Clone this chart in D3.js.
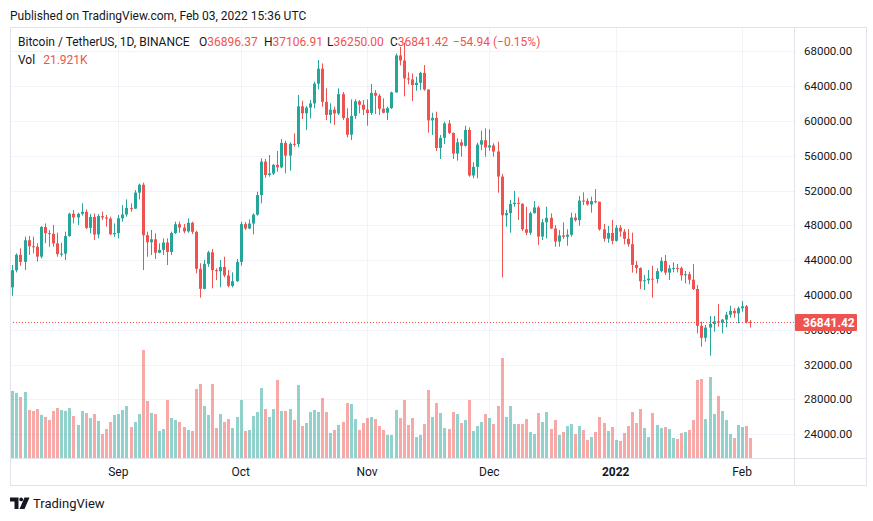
<!DOCTYPE html>
<html>
<head>
<meta charset="utf-8">
<script src="https://cdn.jsdelivr.net/npm/d3@7"></script>
<style>
  html, body { margin: 0; padding: 0; background: #ffffff; }
  svg { display: block; }
  text { font-family: Roboto, "Liberation Sans", sans-serif; }
</style>
</head>
<body>
<svg id="chart" width="873" height="521"></svg>
<script>
// ---------------- DATA (BTC/USDT daily, Binance) ----------------
const firstDay = "2021-08-06";
const lastDay = "2022-02-03";

const opens = [
  40862,42836,44614,43792,46284,45593,45549,44399,47800,47096,47018,45927,44686,44741,46760,49327,48905,49321,49546,47706,48960,46942,49058,48897,48767,46970,
  47100,48810,49246,49999,49915,51756,52663,46863,46048,46395,44850,45173,46025,44940,47111,48121,47737,47299,48293,47241,42996,40693,43574,44895,42839,42716,43208,42235,41034,41564,
  43790,48141,47634,48200,49224,51471,55315,53785,53951,54949,54659,57471,56005,57367,57347,61672,60875,61528,62010,64280,66001,62193,60688,61286,60852,63078,60328,58413,60575,62253,61859,
  61299,60911,63219,62896,61395,60937,61470,63273,67525,66947,64882,64774,64122,64380,65519,63606,60058,60344,56891,58052,59707,58622,56247,57541,57138,58960,53726,54721,57274,57776,
  56950,57184,56480,53601,49152,49396,50441,50588,50471,47545,47140,49389,50053,46702,48343,48864,47632,46131,46834,46681,46914,48889,48588,50838,50820,50399,50775,50701,47543,46464,47120,
  46216,47722,47286,46446,45832,43451,43082,41566,41679,41864,41822,42729,43902,42560,43060,43098,43078,42250,42375,41744,40681,36445,35071,36244,36660,36958,36810,37160,37716,38166,37881,
  38466,38690,36896.37
];
const highs = [
  43440,44780,45350,46690,46770,46690,45930,47920,48220,47460,48030,47150,46000,47270,49450,49760,49450,50520,49830,49300,49370,49300,49570,49180,48990,48220,
  49180,50330,50980,50520,52050,52780,52900,47270,47460,47080,45930,46500,46500,47270,48420,48420,48150,48800,48420,47380,43640,44010,45080,45280,43050,44010,44390,42860,42590,44130,
  48420,48380,48680,49370,51860,55700,55620,56080,55040,56540,57920,57730,57530,58570,62970,62320,61710,62400,64510,67000,66610,63740,62020,61630,63740,63320,61440,62480,62480,62400,62400,
  62480,64240,63550,63090,62590,61630,63360,67760,68530,69000,65580,65460,65080,65660,66420,63630,60940,61060,58380,59910,60100,58650,57990,57880,59450,59260,55240,57500,58880,59140,
  59030,57420,57610,53890,49760,50910,51940,51210,50520,50140,49570,50790,50220,48720,50140,49370,48030,47460,48340,47540,49450,49370,51370,51790,51100,51290,52170,50720,48150,47920,48610,
  48030,48030,47570,47570,47150,43900,43170,42290,42860,43360,43050,44320,44590,43440,43740,43550,43240,42750,42670,43550,41140,36920,36540,37570,37570,38950,37230,38070,38760,38460,38650,
  39300,38840,37106.91
];
const lows = [
  39910,42590,43360,42860,44590,44780,43820,44200,45930,45540,45540,44390,44390,44010,46690,48220,48030,49110,47570,47080,46310,46500,48610,47840,46880,46690,
  46500,48420,48990,49570,49870,50970,42860,44390,44590,44130,44780,44590,43440,44590,47000,47150,47080,47150,47000,42480,39680,40640,43240,40750,41710,40870,42020,40870,40870,41520,
  43360,47460,47570,46960,49110,50520,53470,53590,53780,54160,54550,53970,54280,57040,56960,60220,58950,60290,61440,63630,61630,60100,59720,59530,60680,60100,58110,57800,60220,60870,60680,
  59450,60680,60790,60680,60870,60100,61370,63240,66380,62820,64200,62280,63470,63550,63470,58650,58380,56540,55620,57340,58490,55620,55430,55890,57040,53590,53400,53400,56650,55890,
  56580,55890,51750,42000,47840,47150,50140,48610,47340,46880,46880,49370,45730,46310,46500,47570,45540,45540,46420,45660,46690,48420,47960,50330,50260,49450,50520,47380,46120,46000,45810,
  46120,46690,45810,45540,42560,42480,40680,40560,41250,39680,41330,42590,42290,41710,42590,42590,41640,41330,41210,40560,35580,34050,34620,33020,35770,36350,35580,36270,37380,37380,36730,
  38070,36730,36250.00
];
const closes = [
  42836,44614,43792,46284,45593,45549,44399,47800,47096,47018,45927,44686,44741,46760,49327,48905,49321,49546,47706,48960,46942,49058,48897,48767,46970,47100,
  48810,49246,49999,49915,51756,52663,46863,46048,46395,44850,45173,46025,44940,47111,48121,47737,47299,48293,47241,42996,40693,43574,44895,42839,42716,43208,42235,41034,41564,43790,
  48141,47634,48200,49224,51471,55315,53785,53951,54949,54659,57471,56005,57367,57347,61672,60875,61528,62010,64280,66001,62193,60688,61286,60852,63078,60328,58413,60575,62253,61859,61299,
  60911,63219,62896,61395,60937,61470,63273,67525,66947,64882,64774,64122,64380,65519,63606,60058,60344,56891,58052,59707,58622,56247,57541,57138,58960,53726,54721,57274,57776,56950,
  57184,56480,53601,49152,49396,50441,50588,50471,47545,47140,49389,50053,46702,48343,48864,47632,46131,46834,46681,46914,48889,48588,50838,50820,50399,50775,50701,47543,46464,47120,46216,
  47722,47286,46446,45832,43451,43082,41566,41679,41864,41822,42729,43902,42560,43060,43098,43078,42250,42375,41744,40681,36445,35071,36244,36660,36958,36810,37160,37716,38166,37881,38466,
  38690,36896,36841.42
];
// volume in thousands of BTC
const volumesK = [
  72.7,70.5,66.2,71.6,52.2,51.1,53.2,46.8,44.6,41.4,51.1,54.3,52.2,51.1,54.3,45.7,36.0,51.1,48.9,43.5,47.8,40.3,26.2,31.6,39.2,46.8,
  47.8,52.2,56.5,33.8,39.2,47.8,117.0,61.9,48.9,47.8,29.5,31.6,63.0,43.5,41.4,39.2,33.8,30.6,29.5,74.8,80.2,56.5,46.8,80.2,32.7,47.8,39.2,42.4,32.7,44.6,
  63.0,29.5,30.6,45.7,50.0,75.9,53.2,44.6,53.2,84.6,51.1,51.1,53.2,41.4,79.1,34.9,38.1,50.0,52.2,50.0,65.1,50.0,27.3,30.6,36.0,39.2,59.7,58.6,42.4,30.6,38.1,
  43.5,44.6,42.4,34.9,30.6,25.2,25.2,52.2,43.5,63.0,36.0,43.5,23.0,25.2,37.0,73.8,44.6,59.7,48.9,32.7,31.6,50.0,47.8,38.1,41.4,63.0,29.5,34.9,39.2,47.8,
  43.5,37.0,56.5,108.3,44.6,56.5,37.0,37.0,37.0,42.4,28.4,26.2,48.9,39.2,50.0,31.6,41.4,25.2,28.4,34.9,37.0,26.2,34.9,30.6,19.8,23.0,28.4,44.6,38.1,29.5,33.8,
  19.8,18.7,27.3,34.9,50.0,38.1,53.2,32.7,23.0,48.9,36.0,32.7,33.8,31.6,21.9,20.8,27.3,28.4,30.6,41.4,84.6,85.6,42.4,87.8,47.8,67.3,51.1,41.4,26.2,21.9,36.0,
  33.8,34.9,21.921
];

const priceTicks = [24000, 28000, 32000, 36000, 40000, 44000, 48000, 52000, 56000, 60000, 64000, 68000];
const timeTickDates = ["2021-09-01", "2021-10-01", "2021-11-01", "2021-12-01", "2022-01-01", "2022-02-01"];
const timeTickLabels = ["Sep", "Oct", "Nov", "Dec", "2022", "Feb"];
const timeTickBold = [false, false, false, false, true, false];

const lastPrice = 36841.42;
const legendTitle = "Bitcoin / TetherUS, 1D, BINANCE";
const legendValues = ["36896.37", "37106.91", "36250.00", "36841.42"];
const legendChange = "\u221254.94 (\u22120.15%)";
const volLegend = "21.921K";

// ---------------- LAYOUT ----------------
const UP = "#26a69a", DOWN = "#ef5350";
const UP_V = "rgba(38,166,154,0.5)", DOWN_V = "rgba(239,83,80,0.5)";
const TEXT = "#131722", GRID = "#f0f3fa", BORDER = "#e0e3eb";
const pane = { left: 10, top: 28, right: 794, bottom: 458.5 };

const parse = d3.utcParse("%Y-%m-%d");
const dates = d3.utcDay.range(parse(firstDay), d3.utcDay.offset(parse(lastDay), 1));
const data = dates.map((d, i) => ({ d, o: opens[i], h: highs[i], l: lows[i], c: closes[i], v: volumesK[i] }));

const x = d3.scaleUtc().domain([parse(firstDay), parse(lastDay)]).range([12.3, 750.3]);
const y = d3.scaleLinear().domain([24000, 68000]).range([434.1, 51.3]);
const yv = d3.scaleLinear().domain([0, 100]).range([458.3, 458.3 - 92.6]);

const svg = d3.select("#chart");
svg.append("rect").attr("width", 873).attr("height", 521).attr("fill", "#fff");

svg.append("text").attr("x", 10).attr("y", 19.5).attr("font-size", 12).attr("fill", TEXT)
  .text("Published on TradingView.com, Feb 03, 2022 15:36 UTC");

// clip
svg.append("clipPath").attr("id", "pc").append("rect")
  .attr("x", pane.left).attr("y", pane.top).attr("width", pane.right - pane.left).attr("height", pane.bottom - pane.top);

const g = svg.append("g").attr("clip-path", "url(#pc)");

// grid
g.selectAll("line.hg").data(priceTicks).join("line")
  .attr("x1", pane.left).attr("x2", pane.right)
  .attr("y1", d => Math.round(y(d)) + 0.5).attr("y2", d => Math.round(y(d)) + 0.5)
  .attr("stroke", GRID).attr("stroke-width", 1);
g.selectAll("line.vg").data(timeTickDates).join("line")
  .attr("x1", d => Math.round(x(parse(d))) + 0.5).attr("x2", d => Math.round(x(parse(d))) + 0.5)
  .attr("y1", pane.top).attr("y2", pane.bottom)
  .attr("stroke", GRID).attr("stroke-width", 1);

// volume
g.selectAll("rect.vol").data(data).join("rect")
  .attr("x", d => Math.round(x(d.d)) - 1).attr("width", 3)
  .attr("y", d => yv(d.v)).attr("height", d => yv(0) - yv(d.v))
  .attr("fill", d => d.c >= d.o ? UP_V : DOWN_V);

// candles
const cg = g.selectAll("g.candle").data(data).join("g");
cg.append("rect")
  .attr("x", d => Math.round(x(d.d)))
  .attr("width", 1)
  .attr("y", d => y(Math.max(d.h, d.o, d.c)))
  .attr("height", d => y(Math.min(d.l, d.o, d.c)) - y(Math.max(d.h, d.o, d.c)))
  .attr("fill", d => d.c >= d.o ? UP : DOWN);
cg.append("rect")
  .attr("x", d => Math.round(x(d.d)) - 1)
  .attr("width", 3)
  .attr("y", d => y(Math.max(d.o, d.c)))
  .attr("height", d => Math.max(1, y(Math.min(d.o, d.c)) - y(Math.max(d.o, d.c))))
  .attr("fill", d => d.c >= d.o ? UP : DOWN);

// last price dotted line
g.append("line")
  .attr("x1", pane.left).attr("x2", pane.right)
  .attr("y1", Math.round(y(lastPrice)) + 0.5).attr("y2", Math.round(y(lastPrice)) + 0.5)
  .attr("stroke", DOWN).attr("stroke-width", 1).attr("stroke-dasharray", "1,2");

// legend
const lg = svg.append("g").attr("font-size", 12);
lg.append("text").attr("x", 18).attr("y", 46).attr("fill", TEXT).text(legendTitle);
const letters = ["O", "H", "L", "C"];
const letterX = [199, 264, 327, 390];
letters.forEach((L, i) => {
  const t = lg.append("text").attr("x", letterX[i]).attr("y", 46);
  t.append("tspan").attr("fill", TEXT).text(L);
  t.append("tspan").attr("fill", DOWN).text(legendValues[i]);
});
lg.append("text").attr("x", 453).attr("y", 46).attr("fill", DOWN).text(legendChange);
const vl = lg.append("text").attr("x", 18).attr("y", 63.5);
vl.append("tspan").attr("fill", TEXT).text("Vol");
vl.append("tspan").attr("fill", DOWN).attr("dx", 8).text(volLegend);

// frame & separators
svg.append("rect").attr("x", 10.5).attr("y", 27.5).attr("width", 856).attr("height", 458)
  .attr("fill", "none").attr("stroke", BORDER).attr("stroke-width", 1);
svg.append("line").attr("x1", 794.5).attr("x2", 794.5).attr("y1", 28).attr("y2", 486)
  .attr("stroke", BORDER);
svg.append("line").attr("x1", 10).attr("x2", 867).attr("y1", 458.5).attr("y2", 458.5)
  .attr("stroke", BORDER);

// price axis labels
svg.append("g").selectAll("text").data(priceTicks).join("text")
  .attr("x", 804).attr("y", d => y(d) + 4)
  .attr("font-size", 11.5).attr("fill", TEXT)
  .text(d => d3.format(".2f")(d));

// last price label
const ly = y(lastPrice);
svg.append("rect").attr("x", 795).attr("y", ly - 8.5).attr("width", 62).attr("height", 17)
  .attr("rx", 1).attr("fill", DOWN);
svg.append("text").attr("x", 803).attr("y", ly + 4.5).attr("font-size", 12)
  .attr("font-weight", "bold").attr("fill", "#fff").text(d3.format(".2f")(lastPrice));

// time axis labels
svg.append("g").selectAll("text").data(timeTickDates).join("text")
  .attr("x", d => x(parse(d))).attr("y", 476)
  .attr("text-anchor", "middle").attr("font-size", 12)
  .attr("font-weight", (d, i) => timeTickBold[i] ? "bold" : "normal")
  .attr("fill", TEXT)
  .text((d, i) => timeTickLabels[i]);

// TradingView logo
const logo = svg.append("g").attr("fill", TEXT);
logo.append("path").attr("d", "M10 497.5 h8.5 v11.5 h-4 v-7.5 h-4.5 z");
logo.append("circle").attr("cx", 21.2).attr("cy", 499.4).attr("r", 1.9);
logo.append("path").attr("d", "M24.5 497.5 h5 l-5 11.5 h-5 z");
logo.append("text").attr("x", 33).attr("y", 508).attr("font-size", 13).attr("fill", TEXT).text("TradingView");
</script>
</body>
</html>
